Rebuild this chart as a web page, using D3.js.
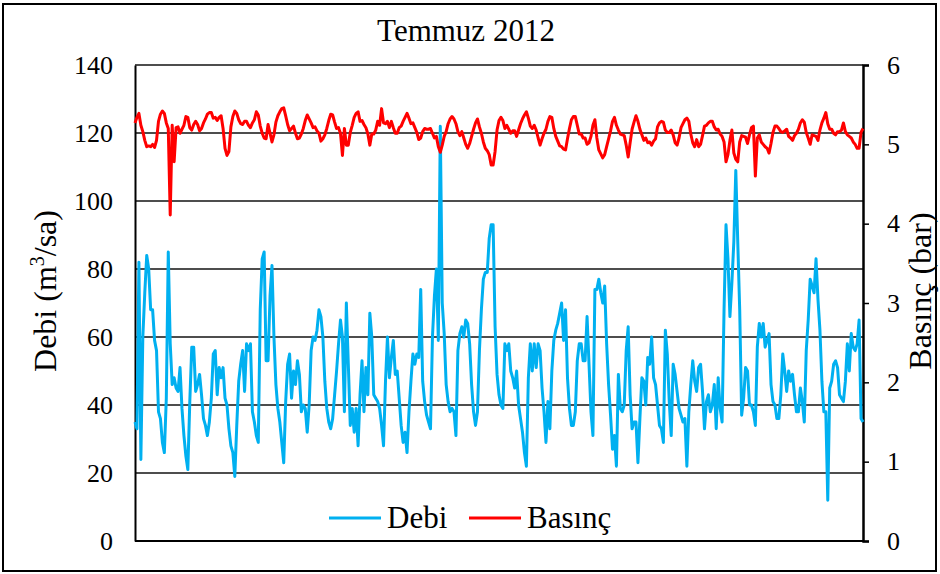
<!DOCTYPE html>
<html>
<head>
<meta charset="utf-8">
<script src="https://cdn.jsdelivr.net/npm/d3@7"></script>
<style>
  html, body { margin: 0; padding: 0; background: #fff; }
</style>
</head>
<body>
<svg id="chart" width="940" height="574"></svg>
<script>
// July 2012 – flow (Debi, m³/h) and pressure (Basınç, bar), one reading every 2 hours
const chartTitle = "Temmuz 2012";
const sampleStepHours = 2;
const monthHours = 31 * 24;

const debi = [
  35, 33, 82, 24, 60, 73, 84, 80, 68, 68,
  59, 56, 38, 36, 29, 26, 42, 85, 58, 46,
  48, 45, 44, 51, 39, 31, 25, 21, 41, 57,
  57, 44, 46, 49, 43, 36, 34, 31, 35, 42,
  55, 56, 43, 51, 48, 51, 42, 40, 33, 28,
  26, 19, 34, 47, 52, 56, 44, 58, 56, 58,
  38, 35, 31, 29, 68, 83, 85, 53, 53, 72,
  81, 60, 46, 39, 35, 29, 23, 41, 52, 55,
  42, 50, 46, 53, 49, 38, 40, 39, 32, 40,
  56, 60, 59, 62, 68, 66, 60, 47, 39, 35,
  33, 36, 43, 50, 58, 65, 60, 38, 70, 52,
  34, 39, 32, 39, 28, 43, 53, 38, 51, 43,
  67, 60, 43, 42, 41, 39, 34, 28, 47, 60,
  48, 54, 59, 49, 50, 42, 34, 29, 32, 26,
  38, 47, 55, 52, 55, 54, 74, 47, 41, 37,
  35, 33, 60, 72, 80, 59, 122, 70, 61, 46,
  41, 38, 39, 38, 31, 56, 61, 63, 60, 65,
  64, 58, 46, 38, 34, 38, 56, 68, 77, 79,
  79, 89, 93, 93, 63, 49, 43, 40, 39, 58,
  56, 58, 50, 48, 45, 50, 40, 36, 32, 26,
  22, 48, 58, 50, 58, 51, 58, 56, 45, 38,
  29, 41, 33, 50, 59, 62, 64, 67, 70, 59,
  68, 48, 39, 34, 34, 38, 53, 58, 58, 53,
  53, 66, 52, 38, 31, 74, 74, 77, 73, 70,
  75, 58, 46, 37, 27, 31, 22, 49, 39, 38,
  40, 56, 63, 43, 33, 35, 35, 23, 36, 48,
  47, 40, 54, 52, 60, 48, 46, 40, 34, 33,
  29, 62, 55, 41, 31, 52, 49, 44, 39, 37,
  35, 36, 22, 38, 46, 53, 47, 44, 51, 52,
  44, 33, 41, 43, 38, 40, 46, 33, 48, 39,
  35, 68, 93, 83, 66, 76, 88, 109, 88, 68,
  37, 42, 51, 50, 40, 40, 38, 34, 57, 64,
  60, 64, 57, 59, 61, 46, 41, 40, 36, 36,
  43, 55, 50, 44, 50, 47, 49, 43, 38, 38,
  45, 41, 35, 56, 65, 77, 75, 73, 83, 71,
  62, 47, 38, 38, 12, 45, 47, 52, 53, 51,
  43, 42, 41, 47, 58, 50, 61, 57, 56, 58,
  65, 36, 35
];

const basinc = [
  5.27, 5.34, 5.39, 5.24, 5.16, 5.05, 4.97, 4.98, 4.97, 5.00,
  4.96, 5.05, 5.29, 5.38, 5.42, 5.39, 5.27, 5.20, 4.11, 5.24,
  4.78, 5.21, 5.22, 5.14, 5.19, 5.24, 5.35, 5.34, 5.21, 5.18,
  5.25, 5.29, 5.25, 5.17, 5.20, 5.27, 5.32, 5.38, 5.40, 5.40,
  5.33, 5.34, 5.30, 5.34, 5.36, 5.20, 4.95, 4.86, 4.91, 5.22,
  5.35, 5.42, 5.39, 5.31, 5.26, 5.25, 5.29, 5.29, 5.24, 5.21,
  5.27, 5.31, 5.41, 5.37, 5.23, 5.14, 5.08, 5.07, 5.25, 5.14,
  5.03, 5.12, 5.28, 5.36, 5.41, 5.45, 5.46, 5.36, 5.25, 5.17,
  5.20, 5.23, 5.14, 5.07, 5.08, 5.13, 5.20, 5.30, 5.37, 5.32,
  5.27, 5.21, 5.22, 5.17, 5.14, 5.04, 5.07, 5.12, 5.20, 5.30,
  5.38, 5.37, 5.28, 5.20, 5.21, 5.14, 4.86, 5.20, 4.99, 4.99,
  5.15, 5.24, 5.34, 5.39, 5.41, 5.29, 5.30, 5.25, 5.21, 5.13,
  4.99, 5.13, 5.13, 5.18, 5.29, 5.24, 5.45, 5.27, 5.26, 5.29,
  5.21, 5.29, 5.21, 5.14, 5.14, 5.21, 5.23, 5.29, 5.34, 5.39,
  5.33, 5.26, 5.27, 5.21, 5.15, 5.06, 5.08, 5.16, 5.20, 5.19,
  5.19, 5.20, 5.14, 5.08, 5.10, 4.97, 4.90, 4.99, 5.10, 5.16,
  5.26, 5.32, 5.35, 5.32, 5.26, 5.16, 5.11, 5.16, 5.08, 5.00,
  4.95, 5.01, 5.10, 5.19, 5.27, 5.32, 5.22, 5.14, 5.03, 4.95,
  4.92, 4.87, 4.74, 4.74, 4.91, 5.18, 5.30, 5.34, 5.30, 5.20,
  5.24, 5.19, 5.14, 5.17, 5.17, 5.10, 5.18, 5.26, 5.32, 5.37,
  5.41, 5.33, 5.23, 5.20, 5.24, 5.18, 5.08, 4.99, 5.07, 5.14,
  5.19, 5.29, 5.35, 5.34, 5.20, 5.10, 5.04, 4.98, 4.97, 4.94,
  4.93, 5.07, 5.20, 5.31, 5.35, 5.35, 5.24, 5.13, 5.13, 5.08,
  5.08, 5.00, 5.02, 5.10, 5.24, 5.31, 5.08, 4.93, 4.88, 4.83,
  4.87, 4.97, 5.07, 5.17, 5.29, 5.34, 5.24, 5.18, 5.13, 5.12,
  5.11, 4.99, 4.84, 5.02, 5.19, 5.28, 5.36, 5.29, 5.19, 5.12,
  5.05, 5.08, 5.02, 5.03, 4.99, 5.04, 5.07, 5.22, 5.27, 5.29,
  5.28, 5.18, 5.15, 5.15, 5.18, 5.12, 5.02, 4.99, 5.08, 5.21,
  5.26, 5.31, 5.33, 5.29, 5.13, 5.02, 4.97, 5.06, 4.97, 5.00,
  5.11, 5.23, 5.24, 5.27, 5.29, 5.29, 5.22, 5.18, 5.19, 5.13,
  5.10, 5.03, 4.78, 4.87, 5.05, 5.18, 4.89, 4.81, 4.78, 5.03,
  5.11, 5.10, 5.09, 5.01, 5.12, 5.21, 5.23, 4.60, 5.08, 5.12,
  5.03, 5.00, 4.97, 4.95, 4.89, 5.01, 5.15, 5.23, 5.23, 5.20,
  5.16, 5.15, 5.17, 5.19, 5.10, 5.08, 5.05, 5.11, 5.14, 5.19,
  5.27, 5.31, 5.28, 5.15, 5.08, 5.00, 5.12, 5.11, 5.10, 5.05,
  5.18, 5.27, 5.33, 5.40, 5.26, 5.19, 5.19, 5.14, 5.12, 5.16,
  5.16, 5.18, 5.27, 5.16, 5.12, 5.10, 5.08, 5.03, 5.00, 4.95,
  4.95, 5.15, 5.20
];

const debiTicks = [0, 20, 40, 60, 80, 100, 120, 140];
const basincTicks = [0, 1, 2, 3, 4, 5, 6];
const seriesNames = ["Debi", "Basınç"];
const seriesColors = ["#00b0f0", "#ff0000"];

const FONT = '"Liberation Serif", "Times New Roman", serif';

const svg = d3.select("#chart");
const plot = { left: 135, right: 863, top: 65, bottom: 541 };

const x = d3.scaleLinear().domain([0, monthHours]).range([plot.left, plot.right]);
const yL = d3.scaleLinear().domain([0, 140]).range([plot.bottom, plot.top]);
const yR = d3.scaleLinear().domain([0, 6]).range([plot.bottom, plot.top]);

// outer frame
svg.append("rect")
  .attr("x", 3).attr("y", 4).attr("width", 933).attr("height", 567)
  .attr("fill", "#fff").attr("stroke", "#000").attr("stroke-width", 2);

// title
svg.append("text")
  .attr("x", 466).attr("y", 41)
  .attr("text-anchor", "middle")
  .style("font-family", FONT).style("font-size", "31px")
  .text(chartTitle);

// horizontal gridlines
svg.append("g")
  .selectAll("line")
  .data(debiTicks.filter(d => d > 0))
  .join("line")
  .attr("x1", plot.left).attr("x2", plot.right)
  .attr("y1", d => yL(d)).attr("y2", d => yL(d))
  .attr("stroke", "#4d4d4d").attr("stroke-width", 2);

// left axis
const leftAxis = svg.append("g")
  .attr("transform", `translate(${plot.left},0)`)
  .call(d3.axisLeft(yL).tickValues(debiTicks).tickSize(0).tickPadding(22).tickFormat(d3.format("d")));
leftAxis.select(".domain").attr("stroke", "#000").attr("stroke-width", 2);
leftAxis.selectAll("text")
  .style("font-family", FONT).style("font-size", "26px").attr("fill", "#000");

// right axis
const rightAxis = svg.append("g")
  .attr("transform", `translate(${plot.right},0)`)
  .call(d3.axisRight(yR).tickValues(basincTicks).tickSize(6).tickPadding(18).tickFormat(d3.format("d")));
rightAxis.select(".domain").attr("stroke", "#000").attr("stroke-width", 2.5);
rightAxis.selectAll(".tick line").attr("stroke", "#000").attr("stroke-width", 1.5);
rightAxis.selectAll("text")
  .style("font-family", FONT).style("font-size", "26px").attr("fill", "#000");

// baseline (zero)
svg.append("line")
  .attr("x1", plot.left).attr("x2", plot.right)
  .attr("y1", yL(0)).attr("y2", yL(0))
  .attr("stroke", "#000").attr("stroke-width", 2);

// axis titles
const lt = svg.append("text")
  .attr("transform", `translate(56,${(plot.top + plot.bottom) / 2 - 12}) rotate(-90)`)
  .attr("text-anchor", "middle")
  .style("font-family", FONT).style("font-size", "32px");
lt.append("tspan").text("Debi (m");
lt.append("tspan").style("font-size", "20px").attr("dy", -12).text("3");
lt.append("tspan").attr("dy", 12).text("/sa)");

svg.append("text")
  .attr("transform", `translate(931,${(plot.top + plot.bottom) / 2 - 12}) rotate(-90)`)
  .attr("text-anchor", "middle")
  .style("font-family", FONT).style("font-size", "32px")
  .text("Basınç (bar)");

// series lines
const debiLine = d3.line()
  .x((d, i) => x(i * sampleStepHours))
  .y(d => yL(d));
const basincLine = d3.line()
  .x((d, i) => x(i * sampleStepHours))
  .y(d => yR(d));

svg.append("path")
  .datum(debi)
  .attr("d", debiLine)
  .attr("fill", "none")
  .attr("stroke", seriesColors[0])
  .attr("stroke-width", 3)
  .attr("stroke-linejoin", "round");

svg.append("path")
  .datum(basinc)
  .attr("d", basincLine)
  .attr("fill", "none")
  .attr("stroke", seriesColors[1])
  .attr("stroke-width", 3)
  .attr("stroke-linejoin", "round");

// legend
const legendX = [329, 469];
const lg = svg.append("g").selectAll("g")
  .data(seriesNames)
  .join("g")
  .attr("transform", (d, i) => `translate(${legendX[i]},518)`);
lg.append("line")
  .attr("x1", 0).attr("x2", 52)
  .attr("stroke", (d, i) => seriesColors[i])
  .attr("stroke-width", 3);
lg.append("text")
  .attr("x", 58).attr("y", 10)
  .style("font-family", FONT).style("font-size", "31px")
  .text(d => d);
</script>
</body>
</html>
